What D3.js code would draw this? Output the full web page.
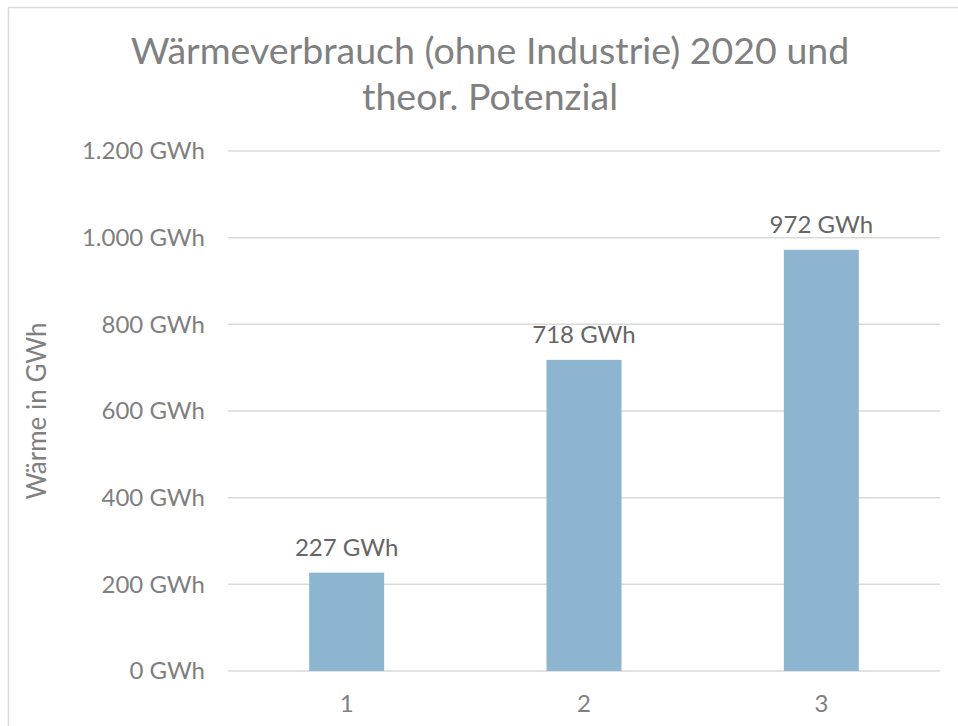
<!DOCTYPE html>
<html>
<head>
<meta charset="utf-8">
<script src="https://cdn.jsdelivr.net/npm/d3@7"></script>
<style>
  body { margin: 0; background: #fff; }
  text { font-family: Lato, "Open Sans", sans-serif; }
</style>
</head>
<body>
<div id="here"></div>
<script>
  var categories = ['1', '2', '3'];
  var values = [227, 718, 972];
  var yTicks = [0, 200, 400, 600, 800, 1000, 1200];
  var titleLines = ['Wärmeverbrauch (ohne Industrie) 2020 und', 'theor. Potenzial'];

  var w = 958, h = 726;
  var plotLeft = 228, plotRight = 940, plotTop = 151, plotBottom = 671;

  var fmt = function(v) { return d3.format(',')(v).replace(/,/g, '.') + ' GWh'; };

  var svg = d3.select('#here').append('svg')
    .attr('width', w)
    .attr('height', h);

  // chart frame
  svg.append('rect')
    .attr('x', 8.5).attr('y', 7.5)
    .attr('width', w).attr('height', h)
    .attr('fill', 'none')
    .attr('stroke', '#d9d9d9')
    .attr('stroke-width', 1.5);

  var x = d3.scaleBand().domain(categories).range([plotLeft, plotRight])
    .paddingInner(0.684).paddingOuter(0.342);
  var y = d3.scaleLinear().domain([0, 1200]).range([plotBottom, plotTop]);

  // gridlines
  svg.append('g').selectAll('line')
    .data(yTicks)
    .enter().append('line')
    .attr('x1', plotLeft).attr('x2', plotRight)
    .attr('y1', function(d) { return y(d); })
    .attr('y2', function(d) { return y(d); })
    .attr('stroke', '#d9d9d9')
    .attr('stroke-width', 1.5);

  // y axis labels
  var yAxis = svg.append('g')
    .attr('transform', 'translate(' + (plotLeft - 23) + ',0)')
    .call(d3.axisLeft(y).tickValues(yTicks).tickFormat(fmt).tickSize(0).tickPadding(0));
  yAxis.select('.domain').remove();
  yAxis.selectAll('text')
    .attr('fill', '#7f7f7f')
    .style('font-size', '24px')
    .style('font-family', 'Lato, sans-serif');

  // x axis labels
  var xAxis = svg.append('g')
    .attr('transform', 'translate(0,' + plotBottom + ')')
    .call(d3.axisBottom(x).tickSize(0).tickPadding(24));
  xAxis.select('.domain').remove();
  xAxis.selectAll('text')
    .attr('fill', '#7f7f7f')
    .style('font-size', '24px')
    .style('font-family', 'Lato, sans-serif');

  // bars
  svg.append('g').selectAll('rect')
    .data(values)
    .enter().append('rect')
    .attr('x', function(d, i) { return x(categories[i]); })
    .attr('width', x.bandwidth())
    .attr('y', function(d) { return y(d); })
    .attr('height', function(d) { return plotBottom - y(d); })
    .attr('fill', '#8eb5cf');

  // data labels
  svg.append('g').selectAll('text')
    .data(values)
    .enter().append('text')
    .attr('x', function(d, i) { return x(categories[i]) + x.bandwidth() / 2; })
    .attr('y', function(d) { return y(d) - 17; })
    .attr('text-anchor', 'middle')
    .attr('fill', '#666666')
    .style('font-size', '24px')
    .text(fmt);

  // title
  svg.append('g').selectAll('text')
    .data(titleLines)
    .enter().append('text')
    .attr('x', 490)
    .attr('y', function(d, i) { return 64 + i * 46; })
    .attr('text-anchor', 'middle')
    .attr('fill', '#808080')
    .style('font-size', '37.5px')
    .text(function(d) { return d; });

  // y axis title
  svg.append('text')
    .attr('transform', 'translate(46,411) rotate(-90)')
    .attr('text-anchor', 'middle')
    .attr('fill', '#808080')
    .style('font-size', '26px')
    .text('Wärme in GWh');
</script>
</body>
</html>
